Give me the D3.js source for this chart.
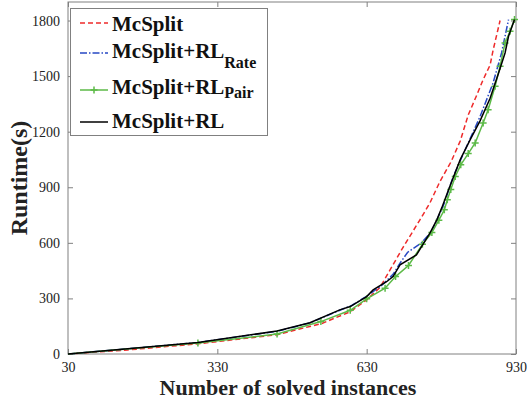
<!DOCTYPE html>
<html>
<head>
<meta charset="utf-8">
<script src="https://cdn.jsdelivr.net/npm/d3@7/dist/d3.min.js"></script>
<style>
  body { margin: 0; background: #fff; }
  text { font-family: "Liberation Serif", "Times New Roman", serif; }
</style>
</head>
<body>
<div id="canvas"></div>
<script>
'use strict';

// Cumulative runtime (s) against number of solved instances, per solver.
const mcsplit = [
  [30, 0], [150, 22], [291, 55], [450, 104], [540, 165], [597, 228],
  [630, 292], [657, 360], [677, 454], [704, 580], [737, 724], [757, 815],
  [777, 930], [800, 1040], [818, 1150], [834, 1290], [850, 1390],
  [864, 1481], [878, 1560], [884, 1640], [898, 1800],
];
const mcsplitRate = [
  [30, 0], [150, 28], [291, 62], [450, 122], [516, 168], [576, 236],
  [600, 262], [630, 312], [660, 370], [683, 430], [697, 490], [712, 548],
  [740, 600], [760, 660], [784, 800], [804, 958], [831, 1121], [858, 1283],
  [884, 1463], [901, 1625], [915, 1805],
];
const mcsplitPair = [
  [30, 0], [291, 59], [450, 108], [538, 175], [597, 236], [630, 298],
  [667, 355], [688, 418], [714, 478], [742, 592], [761, 656], [775, 722],
  [786, 778], [792, 832], [799, 888], [808, 958], [819, 1021], [834, 1082],
  [848, 1139], [864, 1247], [874, 1319], [888, 1445], [898, 1553],
  [908, 1679], [918, 1742], [927, 1805],
];
const mcsplitRL = [
  [30, 0], [150, 28], [291, 62], [450, 124], [516, 169], [576, 238],
  [597, 256], [630, 310], [643, 346], [670, 390], [683, 418], [697, 481],
  [730, 535], [757, 652], [771, 724], [781, 790], [797, 904], [818, 1049],
  [838, 1157], [858, 1260], [878, 1380], [895, 1517], [908, 1625],
  [915, 1715], [927, 1805],
];

const xTicks = [30, 330, 630, 930];
const yTicks = [0, 300, 600, 900, 1200, 1500, 1800];

const series = [
  {key: 'McSplit', sub: '', data: mcsplit, color: '#ee2a2a', dash: '5,3', marker: false},
  {key: 'McSplit+RL', sub: 'Rate', data: mcsplitRate, color: '#2748c4', dash: '7,2,1.5,2', marker: false},
  {key: 'McSplit+RL', sub: 'Pair', data: mcsplitPair, color: '#5cba47', dash: null, marker: true},
  {key: 'McSplit+RL', sub: '', data: mcsplitRL, color: '#000000', dash: null, marker: false},
];

const serif = '"Liberation Serif", "Times New Roman", serif';
const width = 527;
const height = 400;
const margins = {top: 2, right: 11, bottom: 46, left: 68};
const chartWidth = width - margins.left - margins.right;
const chartHeight = height - margins.top - margins.bottom;
const axisColor = '#808080';

const svg = d3.select('#canvas').append('svg')
    .attr('width', width)
    .attr('height', height);
const chart = svg.append('g')
    .attr('transform', `translate(${margins.left},${margins.top})`);

const x = d3.scaleLinear().domain([30, 930]).range([0, chartWidth]);
const y = d3.scaleLinear().domain([0, 1900]).range([chartHeight, 0]);

// Box around the plot, ticks pointing inwards on all four sides.
chart.append('rect')
    .attr('width', chartWidth)
    .attr('height', chartHeight)
    .attr('fill', 'none')
    .attr('stroke', axisColor)
    .attr('stroke-width', 1);

function styleAxis(g, showLabels) {
  g.attr('font-family', serif);
  g.select('.domain').remove();
  g.selectAll('.tick line').attr('stroke', axisColor);
  if (!showLabels) {
    g.selectAll('.tick text').remove();
    return;
  }
  g.selectAll('.tick text')
      .attr('fill', '#222')
      .style('font-size', '14px');
}

chart.append('g')
    .attr('transform', `translate(0,${chartHeight})`)
    .call(d3.axisBottom(x).tickValues(xTicks).tickFormat(d3.format('d'))
        .tickSizeInner(-5).tickPadding(8))
    .call(g => styleAxis(g, true));
chart.append('g')
    .call(d3.axisTop(x).tickValues(xTicks).tickSizeInner(-5))
    .call(g => styleAxis(g, false));
chart.append('g')
    .call(d3.axisLeft(y).tickValues(yTicks).tickFormat(d3.format('d'))
        .tickSizeInner(-5).tickPadding(8))
    .call(g => styleAxis(g, true));
chart.append('g')
    .attr('transform', `translate(${chartWidth},0)`)
    .call(d3.axisRight(y).tickValues(yTicks).tickSizeInner(-5))
    .call(g => styleAxis(g, false));

const line = d3.line()
    .x(d => x(d[0]))
    .y(d => y(d[1]));

series.forEach(s => {
  chart.append('path')
      .datum(s.data)
      .attr('d', line)
      .attr('fill', 'none')
      .attr('stroke', s.color)
      .attr('stroke-width', 1.5)
      .attr('stroke-dasharray', s.dash);
  if (s.marker) {
    chart.selectAll(null)
        .data(s.data.slice(1))
        .enter()
        .append('path')
        .attr('d', 'M-3.5,0H3.5M0,-3.5V3.5')
        .attr('transform', d => `translate(${x(d[0])},${y(d[1])})`)
        .attr('stroke', s.color)
        .attr('stroke-width', 1.5);
  }
});

// Axis titles.
svg.append('text')
    .attr('x', 288)
    .attr('y', 395)
    .attr('text-anchor', 'middle')
    .attr('font-weight', 'bold')
    .attr('fill', '#222')
    .style('font-size', '22px')
    .text('Number of solved instances');
svg.append('text')
    .attr('transform', 'translate(27,178) rotate(-90)')
    .attr('text-anchor', 'middle')
    .attr('font-weight', 'bold')
    .attr('fill', '#222')
    .style('font-size', '24px')
    .text('Runtime(s)');

// Legend.
const legend = svg.append('g');
legend.append('rect')
    .attr('x', 70.5)
    .attr('y', 8.5)
    .attr('width', 197)
    .attr('height', 127)
    .attr('fill', '#fff')
    .attr('stroke', axisColor);
const rowLine = [23, 53, 90, 122];
const rowBase = [31, 58, 94, 128];
series.forEach((s, i) => {
  legend.append('line')
      .attr('x1', 80).attr('x2', 108)
      .attr('y1', rowLine[i]).attr('y2', rowLine[i])
      .attr('stroke', s.color)
      .attr('stroke-width', 1.5)
      .attr('stroke-dasharray', s.dash);
  if (s.marker) {
    legend.append('path')
        .attr('d', `M90.5,${rowLine[i]}h7M94,${rowLine[i] - 3.5}v7`)
        .attr('stroke', s.color)
        .attr('stroke-width', 1.5);
  }
  const t = legend.append('text')
      .attr('x', 112)
      .attr('y', rowBase[i])
      .attr('font-weight', 'bold')
      .attr('fill', '#111')
      .style('font-size', '21px')
      .text(s.key);
  if (s.sub) {
    t.append('tspan')
        .attr('dy', s.sub === 'Rate' ? 10 : 4)
        .style('font-size', '16px')
        .text(s.sub);
  }
});
</script>
</body>
</html>
